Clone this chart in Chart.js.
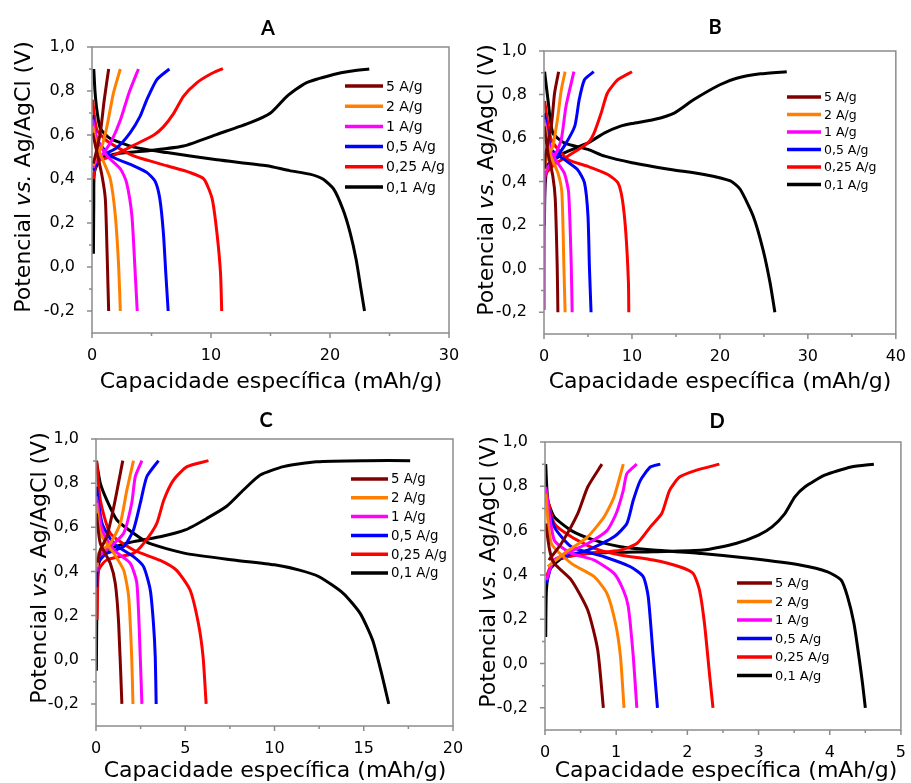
<!DOCTYPE html>
<html>
<head>
<meta charset="utf-8">
<script src="https://cdn.jsdelivr.net/npm/chart.js@4.4.0/dist/chart.umd.min.js"></script>
<style>
  body { margin: 0; background: #fff; }
  canvas { position: absolute; left: 0; top: 0; }
</style>
</head>
<body>
<canvas id="gcd-a" width="911" height="783"></canvas>
<canvas id="gcd-b" width="911" height="783"></canvas>
<canvas id="gcd-c" width="911" height="783"></canvas>
<canvas id="gcd-d" width="911" height="783"></canvas>
<script>
// current densities, fastest first (legend order)
const rateLabels = ['5 A/g', '2 A/g', '1 A/g', '0,5 A/g', '0,25 A/g', '0,1 A/g'];
const rateColors = ['#800000', '#ff8000', '#ff00ff', '#0000ff', '#ff0000', '#000000'];

const yTicks = [-0.2, 0, 0.2, 0.4, 0.6, 0.8, 1.0];

// ---- A : [capacity mAh/g, potential V]
const A_chg_5 = [[0.1,0.47],[0.28,0.505],[0.7,0.61],[1.03,0.76],[1.4,0.9]];
const A_dis_5 = [[0.05,0.61],[0.42,0.52],[0.84,0.415],[1.12,0.31],[1.26,0.08],[1.4,-0.2]];
const A_chg_2 = [[0.1,0.46],[0.28,0.49],[0.84,0.55],[1.26,0.64],[1.8,0.79],[2.38,0.9]];
const A_dis_2 = [[0.05,0.64],[0.42,0.55],[1,0.475],[1.54,0.4],[1.96,0.234],[2.24,0.003],[2.38,-0.2]];
const A_chg_1 = [[0.1,0.45],[0.28,0.475],[1,0.52],[1.7,0.58],[2.4,0.67],[3.1,0.79],[3.9,0.9]];
const A_dis_1 = [[0.05,0.67],[0.42,0.58],[1.26,0.505],[2.4,0.445],[2.9,0.385],[3.35,0.234],[3.6,0.003],[3.8,-0.2]];
const A_chg_05 = [[0.1,0.44],[0.7,0.5],[2.1,0.543],[3.2,0.61],[4.05,0.686],[4.6,0.76],[5.45,0.852],[6.5,0.9]];
const A_dis_05 = [[0.05,0.69],[0.42,0.58],[1.54,0.505],[3.5,0.46],[4.6,0.43],[5.3,0.39],[5.7,0.31],[6,0.154],[6.2,-0.027],[6.4,-0.2]];
const A_chg_025 = [[0.1,0.4],[0.42,0.48],[1.54,0.5],[3.5,0.553],[5.2,0.6],[6,0.637],[6.85,0.697],[7.7,0.777],[8.8,0.837],[9.9,0.875],[11,0.902]];
const A_dis_025 = [[0.05,0.76],[0.4,0.625],[1.26,0.573],[3.5,0.505],[6.3,0.46],[8.2,0.43],[9.4,0.4],[10.1,0.31],[10.5,0.154],[10.8,-0.027],[10.9,-0.2]];
const A_chg_01 = [[0.12,0.06],[0.15,0.3],[0.2,0.43],[0.7,0.49],[2.1,0.515],[4.9,0.53],[7.7,0.55],[10.5,0.603],[13.3,0.656],[15,0.7],[16.4,0.777],[18,0.837],[20.3,0.875],[21.7,0.89],[23.3,0.9]];
const A_dis_01 = [[0.15,0.9],[0.25,0.8],[0.42,0.71],[0.7,0.63],[1.5,0.585],[3.5,0.545],[6.3,0.52],[10.5,0.487],[14.7,0.46],[16.6,0.438],[18.3,0.422],[19.4,0.4],[20.3,0.355],[21.1,0.26],[21.7,0.154],[22.2,0.033],[22.6,-0.1],[22.9,-0.2]];

// ---- B
const B_chg_5 = [[0.08,0.46],[0.15,0.517],[0.83,0.655],[1.2,0.806],[1.66,0.905]];
const B_dis_5 = [[0.03,0.655],[0.45,0.532],[1,0.426],[1.28,0.32],[1.5,0.012],[1.58,-0.2]];
const B_chg_2 = [[0.08,0.45],[0.15,0.487],[1,0.563],[1.58,0.7],[1.96,0.82],[2.4,0.905]];
const B_dis_2 = [[0.03,0.67],[0.64,0.532],[1.58,0.44],[2.03,0.35],[2.26,0.012],[2.4,-0.2]];
const B_chg_1 = [[0.02,-0.19],[0.03,0.15],[0.08,0.38],[0.15,0.44],[1.2,0.517],[1.96,0.593],[2.5,0.746],[3.4,0.905]];
const B_dis_1 = [[0.03,0.685],[0.83,0.532],[2.3,0.44],[2.8,0.35],[3.1,0.012],[3.2,-0.2]];
const B_chg_05 = [[0.08,0.44],[0.15,0.47],[1.2,0.502],[2.3,0.563],[3.5,0.655],[4,0.776],[4.6,0.868],[5.65,0.905]];
const B_dis_05 = [[0.03,0.715],[0.83,0.548],[2.3,0.502],[3.8,0.456],[4.6,0.395],[5,0.243],[5.16,0.012],[5.35,-0.2]];
const B_chg_025 = [[0.1,0.42],[0.26,0.44],[1.2,0.48],[2.7,0.517],[5,0.578],[5.7,0.624],[6.5,0.715],[7.2,0.806],[8.4,0.868],[10,0.905]];
const B_dis_025 = [[0.07,0.77],[0.83,0.593],[2.7,0.502],[5,0.47],[7.2,0.434],[8.4,0.395],[8.9,0.32],[9.3,0.167],[9.6,-0.064],[9.64,-0.2]];
const B_chg_01 = [[0.05,0.2],[0.1,0.35],[0.26,0.44],[0.83,0.487],[2.3,0.532],[5,0.578],[6.9,0.624],[8.7,0.655],[10,0.667],[12.5,0.685],[14.8,0.715],[17,0.776],[20,0.845],[21.9,0.875],[24.6,0.895],[27.6,0.905]];
const B_dis_01 = [[0.07,0.905],[0.45,0.776],[1,0.624],[2.3,0.578],[5,0.548],[6.9,0.517],[10,0.487],[14.4,0.456],[18.2,0.433],[21.2,0.403],[22.3,0.365],[23.8,0.24],[24.9,0.088],[25.7,-0.064],[26.25,-0.2]];

// ---- C
const C_chg_5 = [[0.1,0.44],[0.24,0.497],[0.6,0.557],[1,0.694],[1.5,0.902]];
const C_dis_5 = [[0.02,0.663],[0.24,0.527],[0.8,0.437],[1.08,0.346],[1.27,0.163],[1.45,-0.2]];
const C_chg_2 = [[0.05,0.42],[0.15,0.482],[0.8,0.527],[1.36,0.617],[1.73,0.769],[2.1,0.902]];
const C_dis_2 = [[0.02,0.709],[0.24,0.573],[1,0.482],[1.55,0.406],[1.83,0.286],[2,0.012],[2.07,-0.2]];
const C_chg_1 = [[0.05,0.4],[0.15,0.467],[0.8,0.512],[1.55,0.573],[2,0.709],[2.2,0.83],[2.57,0.902]];
const C_dis_1 = [[0.02,0.74],[0.34,0.588],[1,0.497],[1.92,0.437],[2.29,0.346],[2.48,0.012],[2.57,-0.2]];
const C_chg_05 = [[0.04,0.33],[0.1,0.437],[0.6,0.482],[1.55,0.512],[2.1,0.588],[2.48,0.709],[2.85,0.83],[3.5,0.902]];
const C_dis_05 = [[0.02,0.784],[0.34,0.618],[1,0.527],[2.1,0.467],[2.67,0.421],[3.04,0.316],[3.22,0.163],[3.32,0.012],[3.37,-0.2]];
const C_chg_025 = [[0.06,0.18],[0.15,0.406],[0.6,0.452],[2.1,0.482],[2.67,0.527],[3.4,0.617],[3.8,0.724],[4.34,0.814],[5.1,0.875],[6.3,0.902]];
const C_dis_025 = [[0.04,0.9],[0.24,0.724],[0.8,0.573],[2.1,0.497],[3.6,0.45],[4.5,0.406],[5.27,0.316],[5.74,0.163],[6,0.012],[6.17,-0.2]];
const C_chg_01 = [[0.02,-0.05],[0.06,0.314],[0.15,0.437],[0.6,0.497],[2.1,0.535],[3.6,0.557],[5,0.588],[6.2,0.64],[7.3,0.694],[8.26,0.769],[9.2,0.837],[10.5,0.875],[12.36,0.897],[15.15,0.902],[17.6,0.902]];
const C_dis_01 = [[0.02,0.902],[0.24,0.8],[0.6,0.724],[1.17,0.633],[2.1,0.573],[3,0.527],[5,0.482],[7.7,0.452],[10,0.43],[11.4,0.406],[12.5,0.376],[13.85,0.301],[14.8,0.21],[15.5,0.088],[16,-0.063],[16.4,-0.2]];

// ---- D
const D_chg_5 = [[0.055,0.467],[0.23,0.542],[0.46,0.677],[0.6,0.797],[0.8,0.9]];
const D_dis_5 = [[0.01,0.632],[0.065,0.512],[0.13,0.452],[0.37,0.377],[0.6,0.242],[0.74,0.062],[0.82,-0.2]];
const D_chg_2 = [[0.04,0.437],[0.27,0.497],[0.6,0.572],[0.83,0.662],[0.97,0.752],[1.1,0.9]];
const D_dis_2 = [[0.01,0.767],[0.09,0.542],[0.37,0.452],[0.69,0.392],[0.87,0.317],[0.99,0.182],[1.06,0.032],[1.11,-0.2]];
const D_chg_1 = [[0.02,0.377],[0.13,0.467],[0.6,0.542],[0.87,0.6],[1,0.677],[1.1,0.782],[1.15,0.857],[1.29,0.9]];
const D_dis_1 = [[0.01,0.797],[0.13,0.557],[0.37,0.497],[0.69,0.467],[0.97,0.407],[1.1,0.332],[1.17,0.257],[1.24,0.032],[1.29,-0.2]];
const D_chg_05 = [[0.02,0.362],[0.13,0.467],[0.6,0.512],[0.97,0.572],[1.15,0.632],[1.24,0.737],[1.34,0.827],[1.48,0.887],[1.62,0.9]];
const D_dis_05 = [[0.01,0.752],[0.13,0.617],[0.37,0.527],[0.83,0.482],[1.2,0.437],[1.38,0.392],[1.45,0.302],[1.52,0.032],[1.58,-0.2]];
const D_chg_025 = [[0.02,0.392],[0.13,0.467],[0.6,0.497],[1.06,0.512],[1.29,0.542],[1.48,0.617],[1.64,0.677],[1.75,0.782],[1.89,0.842],[2.12,0.872],[2.45,0.9]];
const D_dis_025 = [[0.01,0.782],[0.13,0.632],[0.37,0.572],[0.69,0.52],[1.06,0.49],[1.52,0.467],[1.89,0.437],[2.08,0.407],[2.17,0.332],[2.24,0.182],[2.31,-0.044],[2.36,-0.2]];
const D_chg_01 = [[0.01,0.12],[0.02,0.332],[0.065,0.422],[0.23,0.474],[0.6,0.497],[1.52,0.505],[2.22,0.512],[2.68,0.542],[3,0.58],[3.19,0.617],[3.37,0.677],[3.51,0.752],[3.65,0.797],[3.93,0.85],[4.3,0.887],[4.62,0.9]];
const D_dis_01 = [[0.01,0.9],[0.04,0.737],[0.13,0.662],[0.37,0.6],[0.69,0.557],[1.06,0.527],[1.52,0.512],[2.2,0.497],[2.9,0.474],[3.6,0.444],[3.97,0.414],[4.16,0.377],[4.25,0.302],[4.34,0.182],[4.41,0.032],[4.46,-0.088],[4.5,-0.2]];

const tickFont = { family: 'DejaVu Sans', size: 16 };
const axisFont = '22px "DejaVu Sans"';
const axisFontItalic = 'italic 22px "DejaVu Sans"';
const Y_AXIS_W = 60;   // room for the y tick labels
const X_AXIS_H = 32;   // room for the x tick labels

const panels = [
  {
    id: 'gcd-a', title: 'A', box: [92, 47, 449, 333], xMax: 30, xTicks: [0, 10, 20, 30], xMinor: 5,
    titlePos: [268, 29], xTitlePos: [271, 382], yTitlePos: [24, 177],
    legend: { x: 345, y: 86, dy: 20.2, len: 38, size: 14 },
    curves: [[A_chg_5, A_dis_5], [A_chg_2, A_dis_2], [A_chg_1, A_dis_1], [A_chg_05, A_dis_05], [A_chg_025, A_dis_025], [A_chg_01, A_dis_01]]
  },
  {
    id: 'gcd-b', title: 'B', box: [544, 51, 898, 334], xMax: 40, xTicks: [0, 10, 20, 30, 40], xMinor: 5,
    titlePos: [715, 28], xTitlePos: [720, 382], yTitlePos: [487, 180],
    legend: { x: 787, y: 97, dy: 17.5, len: 34, size: 12.5 },
    curves: [[B_chg_5, B_dis_5], [B_chg_2, B_dis_2], [B_chg_1, B_dis_1], [B_chg_05, B_dis_05], [B_chg_025, B_dis_025], [B_chg_01, B_dis_01]]
  },
  {
    id: 'gcd-c', title: 'C', box: [96, 439, 453, 726], xMax: 20, xTicks: [0, 5, 10, 15, 20], xMinor: 2.5,
    titlePos: [266, 421], xTitlePos: [275, 771], yTitlePos: [40, 568],
    legend: { x: 351, y: 479, dy: 18.8, len: 37, size: 13.3 },
    curves: [[C_chg_5, C_dis_5], [C_chg_2, C_dis_2], [C_chg_1, C_dis_1], [C_chg_05, C_dis_05], [C_chg_025, C_dis_025], [C_chg_01, C_dis_01]]
  },
  {
    id: 'gcd-d', title: 'D', box: [545, 442, 906, 730], xMax: 5, xTicks: [0, 1, 2, 3, 4, 5], xMinor: 0.5,
    titlePos: [717, 422], xTitlePos: [726, 771], yTitlePos: [489, 572],
    legend: { x: 737, y: 583, dy: 18.5, len: 35, size: 13 },
    curves: [[D_chg_5, D_dis_5], [D_chg_2, D_dis_2], [D_chg_1, D_dis_1], [D_chg_05, D_dis_05], [D_chg_025, D_dis_025], [D_chg_01, D_dis_01]]
  }
];

function drawDecor(chart, p) {
  const ctx = chart.ctx;
  const a = chart.chartArea;
  const xs = chart.scales.x, ys = chart.scales.y;
  ctx.save();

  // frame
  ctx.strokeStyle = '#8c8c8c';
  ctx.lineWidth = 1.5;
  ctx.strokeRect(a.left, a.top, a.right - a.left, a.bottom - a.top);

  // outward ticks, major and minor
  ctx.beginPath();
  for (let k = 0; k * p.xMinor <= p.xMax + 1e-9; k++) {
    const v = k * p.xMinor;
    const major = p.xTicks.some(t => Math.abs(t - v) < 1e-9);
    const px = xs.getPixelForValue(v);
    ctx.moveTo(px, a.bottom);
    ctx.lineTo(px, a.bottom + (major ? 5 : 3));
  }
  for (let k = -2; k <= 10; k++) {
    const v = k / 10;
    const major = k % 2 === 0;
    const py = ys.getPixelForValue(v);
    ctx.moveTo(a.left, py);
    ctx.lineTo(a.left - (major ? 5 : 3), py);
  }
  ctx.stroke();

  ctx.fillStyle = '#000';
  ctx.textBaseline = 'middle';

  // panel letter
  ctx.font = 'bold 20px Lato';
  ctx.textAlign = 'center';
  ctx.fillText(p.title, p.titlePos[0], p.titlePos[1]);

  // x title
  ctx.font = axisFont;
  ctx.fillText('Capacidade específica (mAh/g)', p.xTitlePos[0], p.xTitlePos[1]);

  // y title with italic "vs."
  const parts = [['Potencial ', axisFont], ['vs.', axisFontItalic], [' Ag/AgCl (V)', axisFont]];
  let total = 0;
  parts.forEach(([t, f]) => { ctx.font = f; total += ctx.measureText(t).width; });
  ctx.translate(p.yTitlePos[0], p.yTitlePos[1]);
  ctx.rotate(-Math.PI / 2);
  ctx.textAlign = 'left';
  let cx = -total / 2;
  parts.forEach(([t, f]) => { ctx.font = f; ctx.fillText(t, cx, 0); cx += ctx.measureText(t).width; });
  ctx.setTransform(1, 0, 0, 1, 0, 0);

  // legend
  const lg = p.legend;
  ctx.font = lg.size + 'px "DejaVu Sans"';
  ctx.textAlign = 'left';
  ctx.lineWidth = 3.5;
  rateLabels.forEach((lab, i) => {
    const y = lg.y + i * lg.dy;
    ctx.strokeStyle = rateColors[i];
    ctx.beginPath();
    ctx.moveTo(lg.x, y);
    ctx.lineTo(lg.x + lg.len, y);
    ctx.stroke();
    ctx.fillText(lab, lg.x + lg.len + 3, y + 1);
  });

  ctx.restore();
}

function makePanel(p) {
  const datasets = [];
  p.curves.forEach((pair, i) => {
    pair.forEach(pts => {
      datasets.push({
        label: rateLabels[i],
        data: pts.map(([x, y]) => ({ x, y })),
        borderColor: rateColors[i],
        borderWidth: 3,
        pointRadius: 0,
        tension: 0.2,
        fill: false
      });
    });
  });

  // fixed scale thickness, so the plot box lands exactly on p.box
  return new Chart(document.getElementById(p.id), {
    type: 'line',
    data: { datasets },
    options: {
      responsive: false,
      animation: false,
      devicePixelRatio: 1,
      layout: {
        padding: {
          left: p.box[0] - Y_AXIS_W,
          top: p.box[1],
          right: 911 - p.box[2],
          bottom: 783 - p.box[3] - X_AXIS_H
        }
      },
      plugins: { legend: { display: false }, tooltip: { enabled: false } },
      scales: {
        x: {
          type: 'linear', min: 0, max: p.xMax,
          grid: { display: false }, border: { display: false },
          afterBuildTicks: s => { s.ticks = p.xTicks.map(v => ({ value: v })); },
          afterFit: s => { s.height = X_AXIS_H; },
          ticks: { font: tickFont, color: '#000', padding: 5, maxRotation: 0, autoSkip: false, callback: v => String(v) }
        },
        y: {
          type: 'linear', min: -0.3, max: 1.0,
          grid: { display: false }, border: { display: false },
          afterBuildTicks: s => { s.ticks = yTicks.map(v => ({ value: v })); },
          afterFit: s => { s.width = Y_AXIS_W; },
          ticks: { font: tickFont, color: '#000', padding: 9, autoSkip: false, callback: v => v.toFixed(1).replace('.', ',') }
        }
      }
    },
    plugins: [{ id: 'decor', afterDraw: chart => drawDecor(chart, p) }]
  });
}

panels.forEach(makePanel);
</script>
</body>
</html>
